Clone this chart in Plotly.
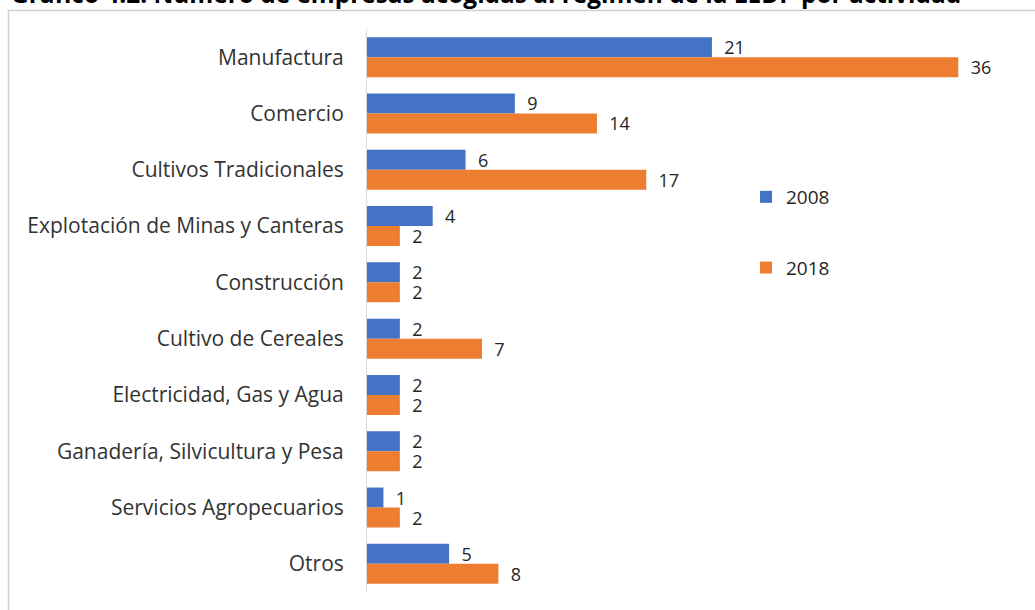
import plotly.graph_objects as go

# Activities (top to bottom) and number of companies per year
actividades = [
    "Manufactura",
    "Comercio",
    "Cultivos Tradicionales",
    "Explotación de Minas y Canteras",
    "Construcción",
    "Cultivo de Cereales",
    "Electricidad, Gas y Agua",
    "Ganadería, Silvicultura y Pesa",
    "Servicios Agropecuarios",
    "Otros",
]
empresas_2008 = [21, 9, 6, 4, 2, 2, 2, 2, 1, 5]
empresas_2018 = [36, 14, 17, 2, 2, 7, 2, 2, 2, 8]

titulo = "Gráfico 4.2: Número de empresas acogidas al régimen de la LEDP por actividad"

W, H = 1035, 610
L, R, T, B = 367, 11, 29, 18
PW, PH = W - L - R, H - T - B


def px_x(p):
    return (p - L) / PW


def px_y(p):
    return (H - B - p) / PH


FONT = "Open Sans"
TEXT = "#262626"
LABEL = "#333333"

fig = go.Figure()
fig.add_trace(go.Bar(
    y=actividades, x=empresas_2008, name="2008", orientation="h",
    marker=dict(color="#4472C4", line=dict(width=0)),
    text=empresas_2008, texttemplate="  %{x}", textposition="outside",
    constraintext="none",
    textfont=dict(family=FONT, size=18, color=TEXT),
    cliponaxis=False, legendgroup="a",
))
fig.add_trace(go.Bar(
    y=actividades, x=empresas_2018, name="2018", orientation="h",
    marker=dict(color="#ED7D31", line=dict(width=0)),
    text=empresas_2018, texttemplate="  %{x}", textposition="outside",
    constraintext="none",
    textfont=dict(family=FONT, size=18, color=TEXT),
    cliponaxis=False, legendgroup="b",
))

fig.update_layout(
    width=W, height=H,
    margin=dict(l=L, r=R, t=T, b=B, pad=0),
    paper_bgcolor="white", plot_bgcolor="white",
    barmode="group", bargap=0.29, bargroupgap=0,
    font=dict(family=FONT, color=TEXT),
    xaxis=dict(range=[0, 40], showgrid=False, zeroline=False,
               showticklabels=False, ticks="", showline=False),
    yaxis=dict(autorange="reversed", showgrid=False, zeroline=False,
               showline=True, linecolor="#d9d9d9", linewidth=1,
               ticks="", ticklabelstandoff=18,
               tickfont=dict(family=FONT, size=21, color=LABEL)),
    legend=dict(x=px_x(746), y=px_y(178), xanchor="left", yanchor="top",
                font=dict(family=FONT, size=19, color=TEXT),
                traceorder="grouped", tracegroupgap=43,
                bgcolor="rgba(0,0,0,0)", itemwidth=30),
    showlegend=True,
)

# Outer frame of the chart area
fig.add_shape(type="rect", xref="paper", yref="paper",
              x0=px_x(8.5), x1=px_x(1040), y0=px_y(620), y1=px_y(10.5),
              line=dict(color="#d0d0d0", width=1.5), fillcolor="rgba(0,0,0,0)",
              layer="below")

# Caption above the frame
fig.add_annotation(text="<b>" + titulo + "</b>", xref="paper", yref="paper",
                   x=px_x(9), y=px_y(-6), xanchor="left", yanchor="middle",
                   showarrow=False, font=dict(family=FONT, size=24.4, color="#000000"))

fig.write_html("out.html")
